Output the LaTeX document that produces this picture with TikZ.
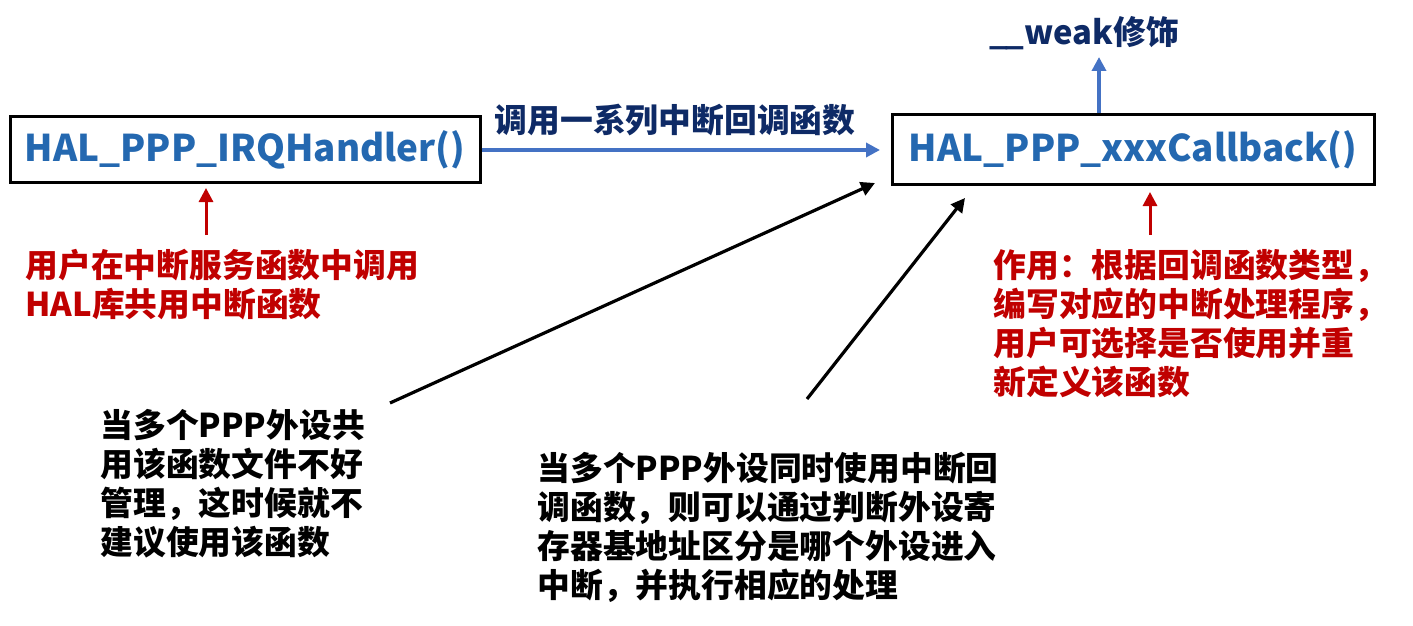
\documentclass[tikz,border=0pt]{standalone}
\usepackage{fontspec}
\setmainfont{Noto Sans CJK SC}
\usepackage{xcolor}
\usetikzlibrary{arrows.meta}
\usetikzlibrary{positioning}
\definecolor{funcblue}{HTML}{2468B0}
\definecolor{arrowblue}{HTML}{4472C4}
\definecolor{navy}{HTML}{0E2A66}
\definecolor{noteRed}{HTML}{C00000}

\tikzset{
  funcbox/.style = {draw, line width=1.5pt, inner sep=0pt, text=funcblue,
                    font=\fontsize{18.4}{22}\selectfont\bfseries},
  note/.style    = {anchor=north west, inner sep=0pt, align=left,
                    font=\fontsize{16.4}{19.5}\selectfont\bfseries},
  tipA/.style    = {-{Triangle[length=7pt, width=7pt]}},
}

\begin{document}
\begin{tikzpicture}[x=0.5pt, y=-0.5pt]

\useasboundingbox (0,0) rectangle (1413,626);

% the two functions
\node[funcbox, minimum width=235pt, minimum height=32.5pt] (irq) at (245,149.5)
  {HAL\_PPP\_IRQHandler()};
\node[funcbox, minimum width=241pt, minimum height=34.5pt] (cb) at (1133,149.5)
  {HAL\_PPP\_xxxCallback()};

% call chain
\coordinate (cbIn) at (880,150);
\draw[arrowblue, line width=2pt, tipA] (irq.east |- cbIn) -- (cbIn);
\node[text=navy, font=\fontsize{16.4}{19.5}\selectfont\bfseries] (chain) at (675,120)
  {调用一系列中断回调函数};

% __weak
\node[text=navy, font=\fontsize{16.4}{19.5}\selectfont\bfseries] (weak) at (1084,33)
  {\_\kern-1pt\_weak修饰};
\coordinate (weakTip) at (1099,57);
\draw[arrowblue, line width=2pt, tipA] (cb.north -| weakTip) -- (weakTip);

% red notes
\node[note, text=noteRed] (useIrq) at (25,249)
  {用户在中断服务函数中调用\\HAL库共用中断函数};
\coordinate (irqTip) at (206,188);
\draw[noteRed, line width=1.5pt, tipA] (useIrq.north -| irqTip) ++(0,-14) -- (irqTip);

\node[note, text=noteRed] (useCb) at (993,249)
  {作用：根据回调函数类型，\\编写对应的中断处理程序，\\用户可选择是否使用并重\\新定义该函数};
\coordinate (cbTip) at (1150,192);
\draw[noteRed, line width=1.5pt, tipA] (useCb.north -| cbTip) ++(0,-14) -- (cbTip);

% black notes
\node[note] (shared) at (100,409)
  {当多个PPP外设共\\用该函数文件不好\\管理，这时候就不\\建议使用该函数};
\node[note] (multi) at (537,452)
  {当多个PPP外设同时使用中断回\\调函数，则可以通过判断外设寄\\存器基地址区分是哪个外设进入\\中断，并执行相应的处理};

\coordinate (sharedOut) at (390,403);
\coordinate (sharedTip) at (875,183);
\coordinate (multiOut)  at (807,399);
\coordinate (multiTip)  at (965,198);
\draw[line width=1.6pt, tipA] (sharedOut) -- (sharedTip);
\draw[line width=1.6pt, tipA] (multiOut) -- (multiTip);

\end{tikzpicture}
\end{document}
